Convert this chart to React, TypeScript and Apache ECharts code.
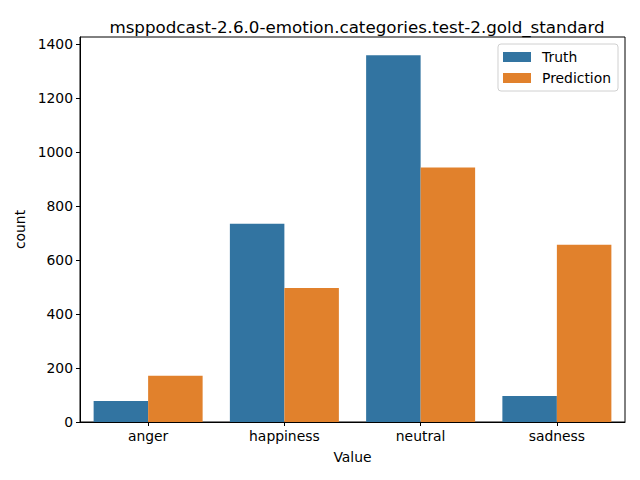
import React, { useEffect, useRef } from "react";
import * as echarts from "echarts";

const categories = ["anger", "happiness", "neutral", "sadness"];
const truthValues = [78, 735, 1359, 96];
const predictionValues = [171, 497, 943, 657];
const yTicks = [0, 200, 400, 600, 800, 1000, 1200, 1400];
const titleText = "msppodcast-2.6.0-emotion.categories.test-2.gold_standard";

export default function App() {
  const ref = useRef<HTMLDivElement>(null);
  useEffect(() => {
    if (!ref.current) return;
    const chart = echarts.init(ref.current, null, { renderer: "svg" });
    const font = "DejaVu Sans";
    chart.setOption({
      animation: false,
      backgroundColor: "#ffffff",
      textStyle: { fontFamily: font },
      title: {
        text: titleText,
        left: 352,
        textAlign: "center",
        top: 13,
        textStyle: { fontFamily: font, fontSize: 16.7, fontWeight: "normal", color: "#000" },
      },
      legend: {
        orient: "vertical",
        right: 22,
        top: 44,
        itemWidth: 28,
        itemHeight: 10,
        itemGap: 7,
        padding: [6, 7, 6, 5],
        borderColor: "#d0d0d0",
        borderWidth: 1,
        borderRadius: 3,
        backgroundColor: "rgba(255,255,255,0.8)",
        icon: "rect",
        textStyle: { fontFamily: font, fontSize: 13.9, color: "#000", padding: [0, 0, 0, 6], lineHeight: 14 },
        data: ["Truth", "Prediction"],
      },
      grid: {
        left: 80,
        right: 15,
        top: 37,
        bottom: 58,
        show: true,
        borderColor: "#000",
        borderWidth: 1,
        containLabel: false,
      },
      xAxis: {
        type: "category",
        data: categories,
        name: "Value",
        nameLocation: "middle",
        nameGap: 28,
        nameTextStyle: { fontFamily: font, fontSize: 13.9, color: "#000" },
        axisLine: { show: true, lineStyle: { color: "#000", width: 1 } },
        axisTick: { show: true, alignWithLabel: true, length: 4, lineStyle: { color: "#000" } },
        axisLabel: { fontFamily: font, fontSize: 13.9, color: "#000", margin: 7 },
        splitLine: { show: false },
      },
      yAxis: {
        type: "value",
        min: 0,
        max: 1427,
        interval: 200,
        name: "count",
        nameLocation: "middle",
        nameGap: 47,
        nameTextStyle: { fontFamily: font, fontSize: 13.9, color: "#000" },
        axisLine: { show: true, lineStyle: { color: "#000", width: 1 } },
        axisTick: { show: true, length: 4, lineStyle: { color: "#000" }, customValues: yTicks },
        axisLabel: {
          fontFamily: font,
          fontSize: 13.9,
          color: "#000",
          margin: 7,
          customValues: yTicks,
          formatter: (v: number) => String(v),
        },
        splitLine: { show: false },
      },
      series: [
        {
          name: "Truth",
          type: "bar",
          data: truthValues,
          itemStyle: { color: "#3274a1" },
          barGap: "0%",
          barCategoryGap: "20%",
        },
        {
          name: "Prediction",
          type: "bar",
          data: predictionValues,
          itemStyle: { color: "#e1812c" },
          barGap: "0%",
          barCategoryGap: "20%",
        },
      ],
    });
    return () => chart.dispose();
  }, []);
  return <div ref={ref} style={{ width: 640, height: 480, position: "absolute", left: 0, top: 0 }} />;
}
